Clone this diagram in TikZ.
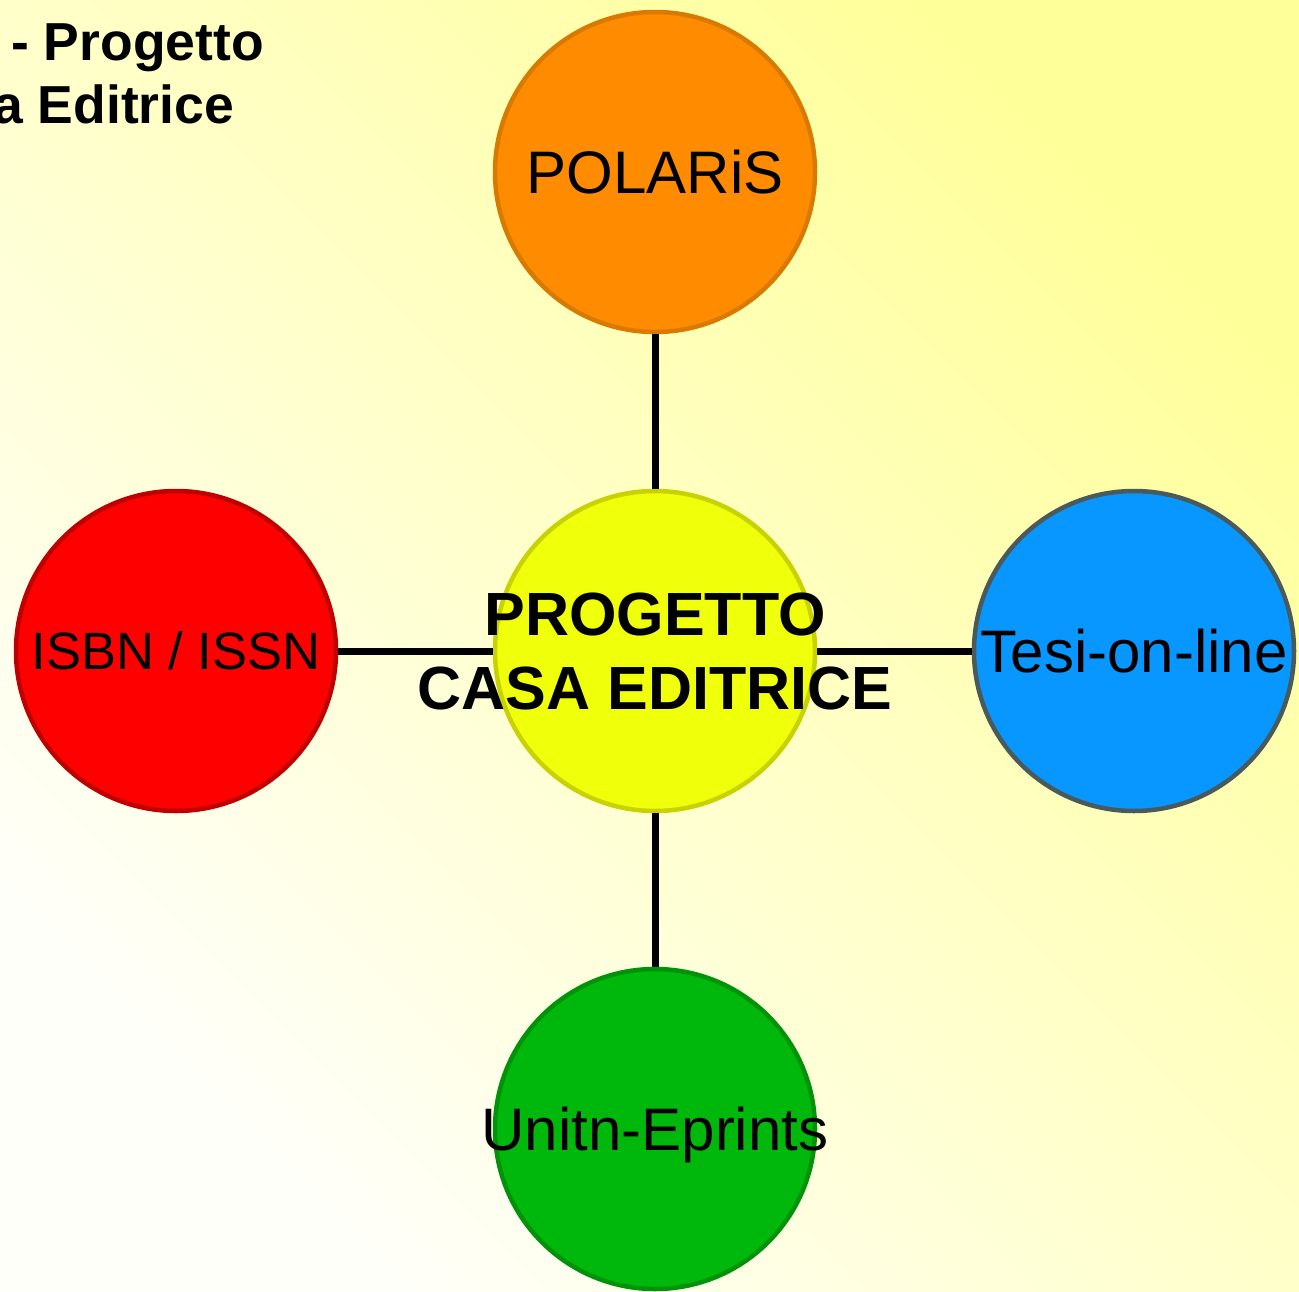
\documentclass[tikz,border=0pt]{standalone}
\usepackage{fontspec}
\setmainfont{Liberation Sans}

\definecolor{sfondoGiallo}{HTML}{FFFF9A}
\definecolor{sfondoBianco}{HTML}{FFFFFA}
\definecolor{arancio}{HTML}{FF8C00}
\definecolor{arancioBordo}{HTML}{D97A00}
\definecolor{rosso}{HTML}{FF0000}
\definecolor{rossoBordo}{HTML}{BF0000}
\definecolor{azzurro}{HTML}{0896FF}
\definecolor{azzurroBordo}{HTML}{4A5A5A}
\definecolor{verde}{HTML}{00B80C}
\definecolor{verdeBordo}{HTML}{009208}
\definecolor{giallo}{HTML}{F0FF0A}
\definecolor{gialloBordo}{HTML}{C8D200}

\begin{document}
\begin{tikzpicture}[x=1pt,y=-1pt,
    bolla/.style={circle, minimum size=320pt, inner sep=0pt, line width=4.5pt},
    nome/.style={inner sep=0pt, text height=42pt, text depth=0pt, font=\fontsize{60}{72}\selectfont},
    ramo/.style={line width=7pt}]

    % Sfondo
    \useasboundingbox (0,0) rectangle (1299,1291);
    \shade[shading=axis, top color=sfondoGiallo, bottom color=sfondoBianco, shading angle=-45] (0,0) rectangle (1299,1291);

    % Titolo (tagliato a sinistra)
    \node[inner sep=0pt, anchor=base west, font=\fontsize{53.5}{64}\selectfont\bfseries] (titolo1) at (11,60) {- Progetto};
    \node[inner sep=0pt, anchor=base west, font=\fontsize{53.5}{64}\selectfont\bfseries] (titolo2) at (-7,123) {a Editrice};

    % Bolle
    \node[bolla, fill=giallo, draw=gialloBordo] (casa) at (655,651) {};
    \node[bolla, fill=arancio, draw=arancioBordo] (polaris) at (655,172) {};
    \node[bolla, fill=rosso, draw=rossoBordo] (isbn) at (176,651) {};
    \node[bolla, fill=azzurro, draw=azzurroBordo] (tesi) at (1134,651) {};
    \node[bolla, fill=verde, draw=verdeBordo] (unitn) at (655,1129) {};

    % Collegamenti
    \draw[ramo] (casa) -- (polaris);
    \draw[ramo] (casa) -- (isbn);
    \draw[ramo] (casa) -- (tesi);
    \draw[ramo] (casa) -- (unitn);

    % Scritte
    \node[inner sep=0pt, align=center, font=\fontsize{61}{74}\selectfont\bfseries] (casaT) at (casa) {PROGETTO\\CASA EDITRICE};
    \node[nome] (polarisT) at (polaris) {POLARiS};
    \node[nome, text height=37pt, font=\fontsize{52.5}{62}\selectfont] (isbnT) at (isbn) {ISBN / ISSN};
    \node[nome] (tesiT) at (tesi) {Tesi-on-line};
    \node[nome] (unitnT) at (unitn) {Unitn-Eprints};
  \end{tikzpicture}
\end{document}
